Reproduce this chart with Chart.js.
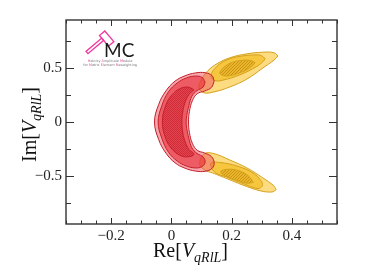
<!DOCTYPE html>
<html>
<head>
<meta charset="utf-8">
<script src="https://cdn.jsdelivr.net/npm/chart.js@4.4.0/dist/chart.umd.min.js"></script>
<style>
html, body { margin: 0; padding: 0; background: #fff; }
</style>
</head>
<body>
<canvas id="c" width="374" height="280"></canvas>
<script>
// contour outlines, points are [Re, Im]
const redOuter = [[0.142,0.380],[0.135,0.432],[0.112,0.459],[0.080,0.457],[0.045,0.430],[0.012,0.380],[-0.018,0.290],[-0.042,0.165],[-0.056,0],
  [-0.042,-0.165],[-0.018,-0.290],[0.012,-0.380],[0.045,-0.430],[0.080,-0.457],[0.112,-0.459],[0.135,-0.432],[0.142,-0.380],
  [0.133,-0.322],[0.110,-0.288],[0.086,-0.264],[0.070,-0.200],[0.060,-0.100],[0.057,0],
  [0.060,0.100],[0.070,0.200],[0.086,0.264],[0.110,0.288],[0.133,0.322]];
const redMid = [[0.112,0.372],[0.102,0.415],[0.080,0.428],[0.050,0.410],[0.020,0.365],[-0.010,0.280],[-0.032,0.150],[-0.044,0],
  [-0.032,-0.150],[-0.010,-0.280],[0.020,-0.365],[0.050,-0.410],[0.080,-0.428],[0.102,-0.415],[0.112,-0.372],
  [0.105,-0.325],[0.085,-0.292],[0.068,-0.240],[0.058,-0.150],[0.051,-0.060],[0.049,0],
  [0.051,0.060],[0.058,0.150],[0.068,0.240],[0.085,0.292],[0.105,0.325]];
const redCore = [[0.075,0.300],[0.055,0.325],[0.028,0.310],[0.003,0.255],[-0.018,0.160],[-0.030,0],[-0.018,-0.160],[0.003,-0.255],
  [0.028,-0.310],[0.055,-0.325],[0.075,-0.300],[0.058,-0.255],[0.044,-0.170],[0.037,-0.080],[0.035,0],[0.037,0.080],
  [0.044,0.170],[0.058,0.255]];

const yelUpOuter = [[0.354,0.615],[0.341,0.645],[0.304,0.650],[0.251,0.635],[0.194,0.598],[0.151,0.542],[0.121,0.477],[0.101,0.400],
  [0.091,0.320],[0.108,0.272],[0.141,0.280],[0.194,0.326],[0.251,0.400],[0.304,0.503],[0.341,0.577]];
const yelUpMid = [[0.311,0.590],[0.300,0.617],[0.281,0.625],[0.228,0.612],[0.184,0.578],[0.150,0.515],[0.131,0.430],[0.145,0.386],
  [0.171,0.390],[0.228,0.440],[0.284,0.518],[0.305,0.565]];
const yelUpCore = [[0.278,0.552],[0.265,0.570],[0.238,0.575],[0.191,0.542],[0.161,0.458],[0.184,0.428],[0.238,0.470],[0.264,0.512]];

const yelLoOuter = [[0.348,-0.630],[0.334,-0.652],[0.294,-0.640],[0.238,-0.588],[0.184,-0.527],[0.138,-0.476],[0.111,-0.448],[0.094,-0.392],
  [0.108,-0.298],[0.138,-0.292],[0.194,-0.354],[0.251,-0.428],[0.304,-0.521],[0.340,-0.594]];
const yelLoMid = [[0.303,-0.595],[0.288,-0.620],[0.238,-0.574],[0.184,-0.513],[0.144,-0.467],[0.131,-0.383],[0.161,-0.377],[0.218,-0.410],
  [0.271,-0.475],[0.300,-0.555]];
const yelLoCore = [[0.272,-0.562],[0.251,-0.570],[0.218,-0.542],[0.180,-0.505],[0.164,-0.462],[0.190,-0.440],[0.225,-0.455],[0.255,-0.500]];

const xTicks = [-0.2, 0, 0.2, 0.4];
const yTicks = [-0.5, 0, 0.5];
const xMinor = [-0.35,-0.3,-0.25,-0.15,-0.1,-0.05,0.05,0.1,0.15,0.25,0.3,0.35,0.45,0.5,0.55];
const yMinor = [-0.75,-0.25,0.25,0.75];

// fill patterns for the innermost contours
function checker(c1, c2) {
    const cv = document.createElement('canvas');
    cv.width = 2; cv.height = 2;
    const g = cv.getContext('2d');
    g.fillStyle = c1; g.fillRect(0, 0, 2, 2);
    g.fillStyle = c2; g.fillRect(0, 0, 1, 1); g.fillRect(1, 1, 1, 1);
    return g.createPattern(cv, 'repeat');
}
function hatch(bg, fg) {
    const cv = document.createElement('canvas');
    cv.width = 3; cv.height = 3;
    const g = cv.getContext('2d');
    g.fillStyle = bg; g.fillRect(0, 0, 3, 3);
    g.fillStyle = fg; g.fillRect(0, 2, 1, 1); g.fillRect(1, 1, 1, 1); g.fillRect(2, 0, 1, 1);
    return g.createPattern(cv, 'repeat');
}

function contour(pts, bg, edge) {
    return {
        data: pts.concat([pts[0]]).map(p => ({x: p[0], y: p[1]})),
        fill: 'shape',
        backgroundColor: bg,
        borderColor: edge,
        borderWidth: 1,
        pointRadius: 0,
        tension: 0.4,
    };
}

const yEdge = '#d4a11c';
const rEdge = '#c41f2b';
const yHatch = hatch('#eab52c', '#c99512');
const rCheck = checker('#e2454f', '#cf2c37');

// bottom to top
const layers = [
    contour(yelUpOuter, '#fddb80', yEdge),
    contour(yelLoOuter, '#fddb80', yEdge),
    contour(yelUpMid, '#f6c63e', yEdge),
    contour(yelLoMid, '#f6c63e', yEdge),
    contour(yelUpCore, yHatch, yEdge),
    contour(yelLoCore, yHatch, yEdge),
    contour(redOuter, 'rgba(236,80,90,0.5)', rEdge),
    contour(redMid, 'rgba(232,40,50,0.58)', rEdge),
    contour(redCore, rCheck, rEdge),
];

const fmt = v => v === 0 ? '0' : (v < 0 ? '\u2212' : '') + Math.abs(v);

// frame with inward ticks on all four sides
const frameTicks = {
    id: 'frameTicks',
    afterDraw(chart) {
        const {ctx, chartArea: a, scales: {x, y}} = chart;
        ctx.save();
        ctx.strokeStyle = '#333';
        ctx.lineWidth = 1;
        ctx.beginPath();
        const xs = (vals, len) => vals.forEach(v => {
            const px = Math.round(x.getPixelForValue(v)) + 0.5;
            ctx.moveTo(px, a.bottom); ctx.lineTo(px, a.bottom - len);
            ctx.moveTo(px, a.top); ctx.lineTo(px, a.top + len);
        });
        const ys = (vals, len) => vals.forEach(v => {
            const py = Math.round(y.getPixelForValue(v)) + 0.5;
            ctx.moveTo(a.left, py); ctx.lineTo(a.left + len, py);
            ctx.moveTo(a.right, py); ctx.lineTo(a.right - len, py);
        });
        xs(xTicks, 6); xs(xMinor, 3.5);
        ys(yTicks, 8); ys(yMinor, 5);
        ctx.stroke();
        ctx.lineWidth = 1.4;
        ctx.strokeRect(a.left, a.top, a.right - a.left, a.bottom - a.top);
        ctx.restore();
    }
};

function richText(ctx, x, y, sub) {
    ctx.textBaseline = 'alphabetic';
    ctx.textAlign = 'left';
    const parts = [
        ['20px "Liberation Serif"', sub[0], 0],
        ['italic 20px "Liberation Serif"', 'V', 0],
        ['italic 14px "Liberation Serif"', sub[1], 5],
        ['20px "Liberation Serif"', ']', 0],
    ];
    parts.forEach(([f, t, dy]) => {
        ctx.font = f;
        ctx.fillText(t, x, y + dy);
        x += ctx.measureText(t).width;
    });
}

const decorations = {
    id: 'decorations',
    afterDraw(chart) {
        const ctx = chart.ctx;
        ctx.save();
        ctx.fillStyle = '#111';
        richText(ctx, 153, 257, ['Re[', 'qRlL']);
        ctx.save();
        ctx.translate(36, 162);
        ctx.rotate(-Math.PI / 2);
        richText(ctx, 0, 0, ['Im[', 'qRlL']);
        ctx.restore();

        // logo
        ctx.save();
        ctx.strokeStyle = '#f0369e';
        ctx.lineWidth = 1.3;
        ctx.translate(87, 52.5);
        ctx.rotate(-0.70);
        ctx.strokeRect(0, -1.5, 20.5, 3);
        ctx.strokeRect(20.5, -5, 7, 14);
        ctx.restore();

        ctx.fillStyle = '#1a1a1a';
        ctx.font = '400 19px Lato';
        ctx.textAlign = 'left';
        ctx.fillText('MC', 104, 56.5);

        ctx.font = '3.4px "DejaVu Sans"';
        const small = (line, cx, by) => {
            ctx.textAlign = 'left';
            const w = ctx.measureText(line).width;
            let px = cx - w / 2;
            line.split(' ').forEach(word => {
                ctx.fillStyle = '#f0369e';
                ctx.fillText(word[0], px, by);
                px += ctx.measureText(word[0]).width;
                ctx.fillStyle = '#777';
                const rest = word.slice(1) + ' ';
                ctx.fillText(rest, px, by);
                px += ctx.measureText(rest).width;
            });
        };
        small('Helicity Amplitude Module', 110, 61.5);
        small('for Matrix Element Reweighting', 110, 65.5);
        ctx.restore();
    }
};

new Chart(document.getElementById('c'), {
    type: 'line',
    data: { datasets: layers.slice().reverse() },
    plugins: [frameTicks, decorations],
    options: {
        responsive: false,
        animation: false,
        layout: { padding: { top: 20, right: 37, left: 0, bottom: 0 } },
        plugins: {
            legend: { display: false },
            tooltip: { enabled: false },
            filler: { drawTime: 'beforeDatasetDraw' },
        },
        scales: {
            x: {
                type: 'linear',
                min: -0.35,
                max: 0.55,
                grid: { display: false, drawTicks: false },
                border: { display: false },
                ticks: {
                    font: { family: 'Liberation Serif', size: 15 },
                    color: '#222',
                    padding: 3,
                    maxRotation: 0,
                    callback: fmt,
                },
                afterBuildTicks: s => { s.ticks = xTicks.map(v => ({value: v})); },
                afterFit: s => { s.height = 56; },
            },
            y: {
                type: 'linear',
                min: -0.95,
                max: 0.95,
                grid: { display: false, drawTicks: false },
                border: { display: false },
                ticks: {
                    font: { family: 'Liberation Serif', size: 15 },
                    color: '#222',
                    padding: 4,
                    callback: fmt,
                },
                afterBuildTicks: s => { s.ticks = yTicks.map(v => ({value: v})); },
                afterFit: s => { s.width = 66; },
            },
        },
    },
});
</script>
</body>
</html>
